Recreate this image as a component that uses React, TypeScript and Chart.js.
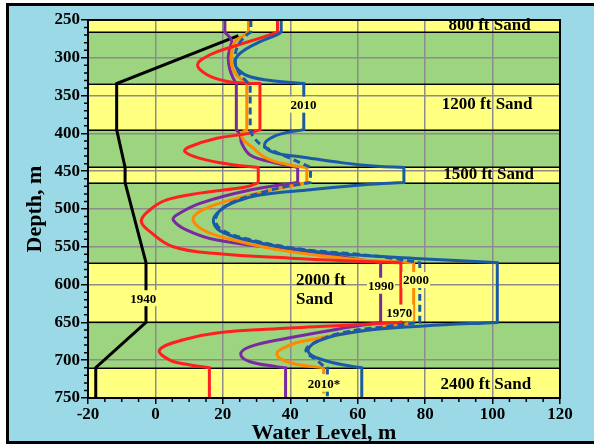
import React, { useEffect, useRef } from 'react';
import { Chart, registerables } from 'chart.js';
Chart.register(...registerables);

const FONT = "'Liberation Serif', 'Times New Roman', serif";
const GREEN = '#9dd47f';
const YELLOW = '#ffff80';
const FRAME_BLUE = '#9bd9e7';

// Sand layers (depth, m)
const sandTop = [250, 334, 445, 571, 710];
const sandBase = [266, 395, 465, 650, 750];

// Sand labels
const bandLabelText = ['800 ft Sand', '1200 ft Sand', '1500 ft Sand', '2000 ft', 'Sand', '2400 ft Sand'];
const bandLabelX = [99.1, 98.4, 98.8, 41.7, 41.7, 98];
const bandLabelDepth = [258, 362.4, 455, 595, 620, 732];
const bandLabelAlign = ['center', 'center', 'center', 'left', 'left', 'center'];

// Year labels
const yearText = ['1940', '2010', '1990', '2000', '1970', '2010*'];
const yearX = [-3.6, 43.9, 66.9, 77.3, 72.3, 50];
const yearDepth = [618, 362, 601.5, 594, 637, 731];

// 1940 profile: [water level, depth]
const line1940 = [
  [24.6, 270.8], [-11.5, 334], [-11.5, 395], [-9, 445], [-9, 465],
  [-2.8, 571], [-2.8, 650], [-17.7, 710], [-17.7, 750],
];

// Heads in each sand (800, 1200, 1500, 2000, 2400 ft)
const heads1970 = [36.2, 31.0, 30.5, 72.8, 16.0];
const heads1990 = [20.6, 24.0, 42.2, 66.8, 38.6];
const heads2000 = [27.6, 27.1, 44.9, 76.6, 49.9];
const heads2010 = [37.3, 44.0, 73.7, 101.4, 61.2];
const heads2010s = [28.3, 28.1, 46.0, 78.4, 51.0];

// Clay sections between sands: [water level, depth]
const clay1970 = [
  [[31, 274], [23.1, 285], [16.2, 296], [12.5, 309], [15.2, 322], [21, 331], [26.5, 333.5]],
  [[27.6, 400], [18.2, 406.5], [10, 418], [8.7, 424], [13.2, 433], [23, 441.5]],
  [[27.1, 470.5], [13.2, 479], [3.3, 488], [-1.6, 501], [-4.2, 516], [-1.6, 530], [5.3, 550], [18.2, 559], [40, 565], [60, 569]],
  [[52, 654.8], [40, 657.5], [18.2, 664], [8.3, 673], [1.2, 686.5], [4.3, 700], [10, 706]],
];
const clay1990 = [
  [[22.6, 277], [22.1, 287], [21.6, 300], [22.1, 316], [23.3, 329]],
  [[25.1, 402], [25.6, 413], [28.1, 428.6], [34, 437.4], [39, 442]],
  [[28.1, 474.8], [13.2, 492.5], [6.3, 508], [5.3, 514.6], [9.3, 527.8], [18.2, 541], [41, 554.5], [55, 563]],
  [[54, 659], [39, 671], [28.1, 682], [25.3, 692], [28.1, 702], [36, 708.5]],
];
const clay2000 = [
  [[26.1, 270.7], [23.6, 278.7], [22.6, 292], [22.6, 309.5], [24.1, 322.8], [26.6, 331.6]],
  [[25.6, 400], [26.1, 408.7], [28.6, 418], [33, 433], [39.9, 441.8]],
  [[28.1, 481.5], [16.2, 497], [11.2, 512], [14.2, 527.8], [23.1, 541], [38, 555], [58, 566]],
  [[60, 662], [43, 675.5], [37.9, 684], [36, 691], [37.9, 700], [43, 706.3]],
];
const clay2010 = [
  [[36, 269.8], [30, 280.8], [25.1, 294], [23.6, 305], [24.6, 316], [28.1, 325], [36, 331]],
  [[37, 401], [33, 410], [32.5, 418], [36, 426.4], [42.9, 430.8], [55.7, 439], [65.6, 443.5]],
  [[62, 468], [46, 474.5], [31, 481.5], [24, 490], [20, 499], [17.2, 514], [19.2, 529], [28.1, 542], [42.9, 554], [60, 561], [80, 566]],
  [[79.5, 654.8], [59.7, 662.3], [47.8, 675.5], [45.3, 688.7], [49.8, 699.7], [58, 708]],
];
const clay2010s = [
  [[27.1, 269.8], [24.6, 283], [23.6, 300.7], [24.6, 318.3], [27.1, 331.6]],
  [[29.1, 405], [32, 417], [38.5, 430], [44, 441]],
  [[38, 471], [31, 479], [24, 489], [20, 499], [17.8, 514], [19.8, 528], [28.5, 541], [43, 553], [60, 560], [70, 565]],
  [[69.6, 654.8], [54.7, 664.4], [45.9, 680], [44.7, 688.7], [47.8, 699.7], [50, 708]],
];

function buildProfile(heads: number[], clays: number[][][]) {
  const pts: { x: number; y: number }[] = [];
  heads.forEach((h, i) => {
    if (i > 0) pts.push({ x: h, y: sandTop[i] });
    pts.push({ x: h, y: sandTop[i] });
    pts.push({ x: h, y: sandBase[i] });
    if (i < heads.length - 1) {
      pts.push({ x: h, y: sandBase[i] });
      clays[i].forEach(([x, y]) => pts.push({ x, y }));
    }
  });
  return pts;
}

const bandsPlugin = {
  id: 'bands',
  beforeDraw(chart: any) {
    const { ctx, chartArea: a, scales } = chart;
    const y = scales.y;
    ctx.save();
    ctx.fillStyle = GREEN;
    ctx.fillRect(a.left, a.top, a.right - a.left, a.bottom - a.top);
    ctx.fillStyle = YELLOW;
    sandTop.forEach((t, i) => {
      const y1 = y.getPixelForValue(t);
      const y2 = y.getPixelForValue(sandBase[i]);
      ctx.fillRect(a.left, y1, a.right - a.left, y2 - y1);
    });
    ctx.restore();
  },
  beforeDatasetsDraw(chart: any) {
    const { ctx, chartArea: a, scales } = chart;
    const y = scales.y;
    const x = scales.x;
    ctx.save();
    ctx.strokeStyle = '#000';
    ctx.lineWidth = 1.5;
    [...sandTop, ...sandBase].forEach((d) => {
      if (d === 250 || d === 750) return;
      const py = Math.round(y.getPixelForValue(d)) + 0.25;
      ctx.beginPath();
      ctx.moveTo(a.left, py);
      ctx.lineTo(a.right, py);
      ctx.stroke();
    });
    ctx.fillStyle = '#000';
    ctx.font = `bold 17px ${FONT}`;
    ctx.textBaseline = 'middle';
    bandLabelText.forEach((t, i) => {
      ctx.textAlign = bandLabelAlign[i];
      ctx.fillText(t, x.getPixelForValue(bandLabelX[i]), y.getPixelForValue(bandLabelDepth[i]));
    });
    ctx.restore();
  },
  afterDatasetsDraw(chart: any) {
    const { ctx, chartArea: a, scales } = chart;
    const y = scales.y;
    const x = scales.x;
    ctx.save();
    ctx.font = `bold 13px ${FONT}`;
    ctx.textBaseline = 'middle';
    ctx.textAlign = 'center';
    yearText.forEach((t, i) => {
      const px = x.getPixelForValue(yearX[i]);
      const py = y.getPixelForValue(yearDepth[i]);
      const w = ctx.measureText(t).width;
      ctx.fillStyle = YELLOW;
      ctx.fillRect(px - w / 2 - 1, py - 8, w + 2, 16);
      ctx.fillStyle = '#000';
      ctx.fillText(t, px, py + 1);
    });
    // plot border
    ctx.strokeStyle = '#000';
    ctx.lineWidth = 2;
    ctx.strokeRect(a.left, a.top, a.right - a.left, a.bottom - a.top);
    // minor ticks
    ctx.lineWidth = 1.5;
    ctx.beginPath();
    for (let d = 250; d <= 750; d += 10) {
      if (d % 50 === 0) continue;
      const py = y.getPixelForValue(d);
      ctx.moveTo(a.left - 4, py);
      ctx.lineTo(a.left, py);
    }
    for (let v = -20; v <= 120; v += 5) {
      if (v % 20 === 0) continue;
      const px = x.getPixelForValue(v);
      ctx.moveTo(px, a.bottom);
      ctx.lineTo(px, a.bottom + 4);
    }
    ctx.stroke();
    ctx.restore();
  },
};

export default function App() {
  const ref = useRef<HTMLCanvasElement>(null);
  useEffect(() => {
    if (!ref.current) return;
    const toPts = (arr: number[][]) => arr.map(([x, y]) => ({ x, y }));
    const p2000 = buildProfile(heads2000, clay2000);
    const common = { showLine: true, pointRadius: 0, borderWidth: 3, fill: false, tension: 0.4 };
    const chart = new Chart(ref.current, {
      type: 'scatter',
      data: {
        datasets: [
          { ...common, data: buildProfile(heads2010, clay2010), borderColor: '#1b5aa5' },
          { ...common, data: buildProfile(heads2010s, clay2010s), borderColor: '#1b5aa5', borderDash: [7, 4] },
          { ...common, data: buildProfile(heads1970, clay1970), borderColor: '#ff1f1f' },
          {
            ...common, data: p2000, borderColor: '#ff8a00',
            segment: { borderDash: (c: any) => (p2000[c.p0DataIndex].y >= 710 && p2000[c.p1DataIndex].y >= 710 ? [6, 4] : undefined) },
          },
          { ...common, data: buildProfile(heads1990, clay1990), borderColor: '#7a2aa0' },
          { ...common, data: toPts(line1940), borderColor: '#000000', tension: 0 },
        ] as any,
      },
      options: {
        animation: false,
        responsive: false,
        maintainAspectRatio: false,
        layout: { padding: { left: 0, right: 34, top: 20, bottom: 0 } },
        plugins: { legend: { display: false }, tooltip: { enabled: false } },
        scales: {
          x: {
            type: 'linear', min: -20, max: 120,
            ticks: { stepSize: 20, color: '#000', font: { family: FONT, size: 17, weight: 'bold' }, padding: 0 },
            grid: { color: '#8c8c8c', lineWidth: 1.5, tickLength: 6, tickColor: '#000', tickWidth: 1.5 },
            border: { display: false },
            title: { display: true, text: 'Water Level, m', color: '#000', font: { family: FONT, size: 22, weight: 'bold' }, padding: { top: 0, bottom: 0 } },
            afterFit: (s: any) => { s.height = 49; },
          },
          y: {
            type: 'linear', reverse: true, min: 250, max: 750,
            ticks: { stepSize: 50, color: '#000', font: { family: FONT, size: 17, weight: 'bold' }, padding: 1 },
            grid: { color: '#8c8c8c', lineWidth: 1.5, tickLength: 7, tickColor: '#000', tickWidth: 1.5 },
            border: { display: false },
            title: { display: true, text: 'Depth, m', color: '#000', font: { family: FONT, size: 22, weight: 'bold' }, padding: { top: 22, bottom: 0 } },
            afterFit: (s: any) => { s.width = 88; },
          },
        },
      } as any,
      plugins: [bandsPlugin],
    });
    return () => chart.destroy();
  }, []);

  return (
    <div style={{ position: 'absolute', left: 0, top: 0, width: 594, height: 447, background: '#fff', overflow: 'hidden' }}>
      <div style={{ position: 'absolute', left: 6, top: 3, width: 600, height: 441, boxSizing: 'border-box', border: '3px solid #000', background: FRAME_BLUE }} />
      <canvas ref={ref} width={594} height={447} style={{ position: 'absolute', left: 0, top: 0, width: 594, height: 447 }} />
    </div>
  );
}
